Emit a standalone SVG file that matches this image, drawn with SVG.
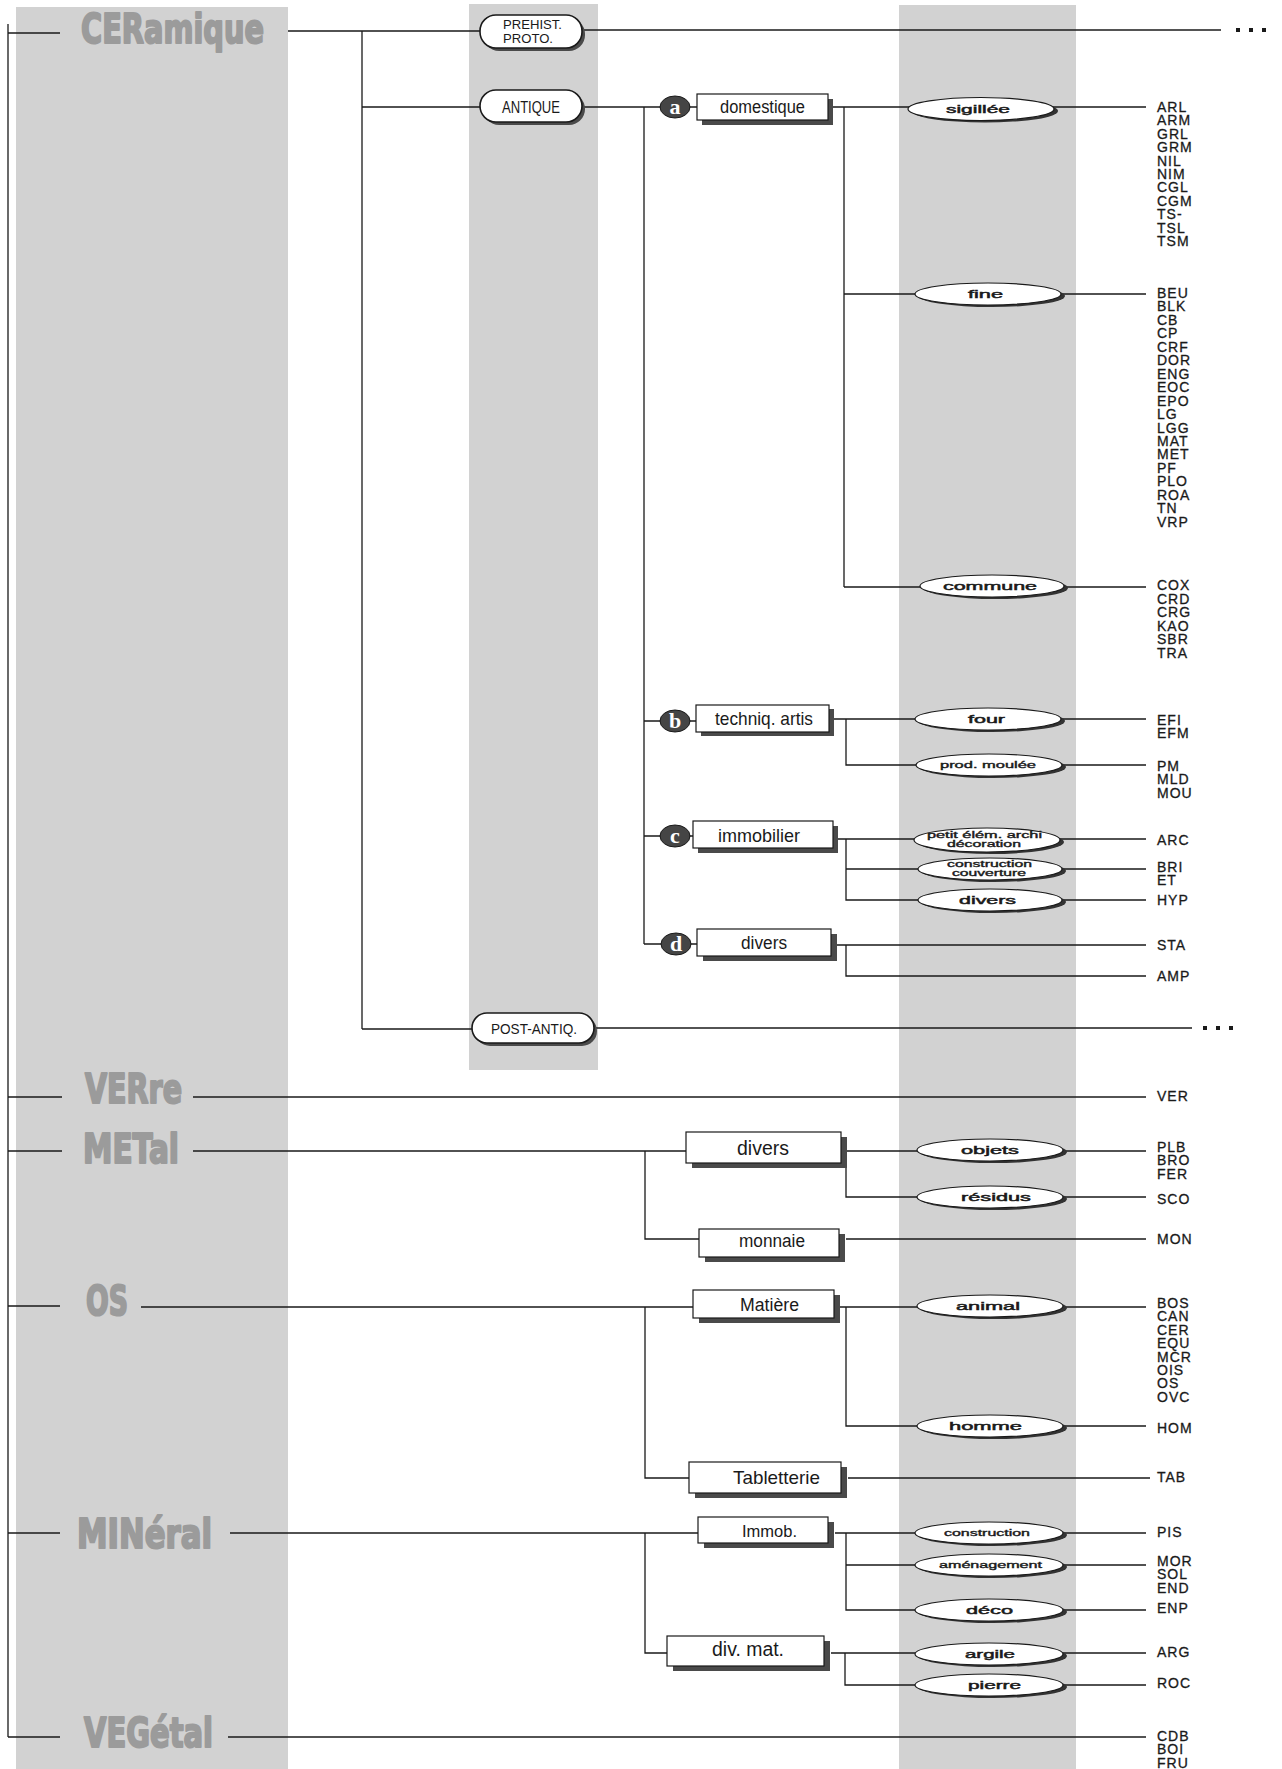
<svg xmlns="http://www.w3.org/2000/svg" width="1282" height="1769" viewBox="0 0 1282 1769">
<style>
.bg{fill:#d2d2d2}
.ln{stroke:#1a1a1a;stroke-width:1.3;fill:none}
.box{fill:#fff;stroke:#1a1a1a;stroke-width:1.2}
.sh{fill:#4a4a4a}
.osh{fill:#333}
.ov{fill:#fff;stroke:#1a1a1a;stroke-width:1.2}
.pill{fill:#fff;stroke:#1a1a1a;stroke-width:1.6}
.bt{font-family:"Liberation Sans",Arial,sans-serif;fill:#1a1a1a}
.ot{font-family:"Liberation Sans",Arial,sans-serif;font-size:10.5px;fill:#1a1a1a;stroke:#1a1a1a;stroke-width:0.45}
.ot2{font-family:"Liberation Sans",Arial,sans-serif;font-size:8.5px;fill:#1a1a1a;stroke:#1a1a1a;stroke-width:0.35}
.code{font-family:"Liberation Sans",Arial,sans-serif;font-size:14px;letter-spacing:1px;fill:#1a1a1a;stroke:#1a1a1a;stroke-width:0.3}
.cat{font-family:"DejaVu Sans",sans-serif;font-weight:bold;font-size:41px;fill:#9b9b9b;stroke:#9b9b9b;stroke-width:2.2;stroke-linejoin:round}
.pt{font-family:"Liberation Sans",Arial,sans-serif;fill:#1a1a1a}
.circ{fill:#454545;stroke:#1a1a1a;stroke-width:1}
.lt{font-family:"Liberation Serif",serif;font-weight:bold;font-size:22px;fill:#fff;text-anchor:middle}
.dot{fill:#1a1a1a}
</style>

<g id="bands">
<rect class="bg" x="16" y="7" width="272" height="1762"/>
<rect class="bg" x="469" y="4" width="129" height="1066"/>
<rect class="bg" x="899" y="5" width="177" height="1764"/>
</g>

<g id="connectors">
<path class="ln" d="M8,24 V1737"/>
<path class="ln" d="M8,33 H60 M8,1097 H62 M8,1151 H62 M8,1306 H60 M8,1533 H60 M8,1737 H60"/>
<path class="ln" d="M288,31 H480 M362,31 V1029 M362,107 H481 M362,1029 H472"/>
<path class="ln" d="M582,30 H1221"/>
<path class="ln" d="M582,107 H697"/>
<path class="ln" d="M644,107 V944 M644,721 H696 M644,836 H693 M644,944 H697"/>
<path class="ln" d="M833,107 H1146 M844,107 V587 M844,294 H1146 M844,587 H1146"/>
<path class="ln" d="M834,719 H1146 M846,719 V765 H1146"/>
<path class="ln" d="M838,839 H1146 M846,839 V900 H1146 M846,869 H1146"/>
<path class="ln" d="M837,945 H1146 M846,945 V976 H1146"/>
<path class="ln" d="M594,1028 H1192"/>
<path class="ln" d="M193,1097 H1146"/>
<path class="ln" d="M193,1151 H686 M645,1151 V1239 H699 M847,1151 H1146 M846,1151 V1197 H1146 M846,1239 H1146"/>
<path class="ln" d="M141,1307 H693 M645,1307 V1478 H689 M840,1307 H1146 M846,1307 V1426 H1146 M848,1478 H1150"/>
<path class="ln" d="M230,1533 H698 M645,1533 V1653 H667 M835,1533 H1146 M846,1533 V1610 H1146 M846,1565 H1146 M831,1653 H1146 M845,1653 V1685 H1146"/>
<path class="ln" d="M228,1737 H1146"/>
<rect class="dot" x="1236" y="28" width="4" height="4"/>
<rect class="dot" x="1249" y="28" width="4" height="4"/>
<rect class="dot" x="1262" y="28" width="4" height="4"/>
<rect class="dot" x="1203" y="1026" width="4" height="4"/>
<rect class="dot" x="1216" y="1026" width="4" height="4"/>
<rect class="dot" x="1229" y="1026" width="4" height="4"/>
</g>

<g id="cat-ceramique"><text class="cat" x="81" y="43" textLength="183" lengthAdjust="spacingAndGlyphs">CERamique</text></g>
<g id="cat-verre"><text class="cat" x="85" y="1103" textLength="97" lengthAdjust="spacingAndGlyphs">VERre</text></g>
<g id="cat-metal"><text class="cat" x="83" y="1163" textLength="96" lengthAdjust="spacingAndGlyphs">METal</text></g>
<g id="cat-os"><text class="cat" x="86" y="1315" textLength="42" lengthAdjust="spacingAndGlyphs">OS</text></g>
<g id="cat-mineral"><text class="cat" x="77" y="1548" textLength="135" lengthAdjust="spacingAndGlyphs">MINéral</text></g>
<g id="cat-vegetal"><text class="cat" x="84" y="1747" textLength="129" lengthAdjust="spacingAndGlyphs">VEGétal</text></g>

<g id="prehist">
<rect class="sh" x="483" y="18" width="102" height="33" rx="16"/>
<rect class="pill" x="480" y="15" width="102" height="33" rx="16"/>
<text class="pt" x="503" y="28.5" font-size="13.5" textLength="59" lengthAdjust="spacingAndGlyphs">PREHIST.</text>
<text class="pt" x="503" y="42.5" font-size="13.5" textLength="50" lengthAdjust="spacingAndGlyphs">PROTO.</text>
</g>
<g id="antique">
<rect class="sh" x="483" y="93" width="102" height="32" rx="16"/>
<rect class="pill" x="480" y="90" width="102" height="32" rx="16"/>
<text class="pt" x="502" y="113" font-size="17" textLength="58" lengthAdjust="spacingAndGlyphs">ANTIQUE</text>
</g>
<g id="postantiq">
<rect class="sh" x="475" y="1016" width="122" height="30" rx="15"/>
<rect class="pill" x="472" y="1013" width="122" height="30" rx="15"/>
<text class="pt" x="491" y="1034" font-size="15" textLength="86" lengthAdjust="spacingAndGlyphs">POST-ANTIQ.</text>
</g>

<g id="circ-a"><ellipse class="circ" cx="675" cy="107" rx="15" ry="11"/><text class="lt" x="675" y="114">a</text></g>
<g id="circ-b"><ellipse class="circ" cx="675" cy="721" rx="15" ry="11"/><text class="lt" x="675" y="728">b</text></g>
<g id="circ-c"><ellipse class="circ" cx="675" cy="836" rx="15" ry="11"/><text class="lt" x="675" y="843">c</text></g>
<g id="circ-d"><ellipse class="circ" cx="676" cy="944" rx="15" ry="11"/><text class="lt" x="676" y="951">d</text></g>

<g id="box-domestique"><rect class="sh" x="702" y="99" width="131" height="26"/><rect class="box" x="697" y="94" width="131" height="26"/><text class="bt" x="720" y="113" font-size="18" textLength="85" lengthAdjust="spacingAndGlyphs">domestique</text></g>
<g id="box-techniq"><rect class="sh" x="701" y="709" width="133" height="27"/><rect class="box" x="696" y="705" width="133" height="27"/><text class="bt" x="715" y="725" font-size="19" textLength="98" lengthAdjust="spacingAndGlyphs">techniq. artis</text></g>
<g id="box-immobilier"><rect class="sh" x="698" y="826" width="140" height="27"/><rect class="box" x="693" y="821" width="140" height="27"/><text class="bt" x="718" y="842" font-size="19" textLength="82" lengthAdjust="spacingAndGlyphs">immobilier</text></g>
<g id="box-divers-d"><rect class="sh" x="703" y="934" width="134" height="27"/><rect class="box" x="697" y="929" width="134" height="27"/><text class="bt" x="741" y="949" font-size="18" textLength="46" lengthAdjust="spacingAndGlyphs">divers</text></g>
<g id="box-divers-met"><rect class="sh" x="692" y="1137" width="155" height="31"/><rect class="box" x="686" y="1132" width="155" height="31"/><text class="bt" x="737" y="1155" font-size="20" textLength="52" lengthAdjust="spacingAndGlyphs">divers</text></g>
<g id="box-monnaie"><rect class="sh" x="705" y="1234" width="140" height="28"/><rect class="box" x="699" y="1229" width="140" height="28"/><text class="bt" x="739" y="1247" font-size="18" textLength="66" lengthAdjust="spacingAndGlyphs">monnaie</text></g>
<g id="box-matiere"><rect class="sh" x="699" y="1295" width="141" height="28"/><rect class="box" x="693" y="1290" width="141" height="28"/><text class="bt" x="740" y="1311" font-size="18" textLength="59" lengthAdjust="spacingAndGlyphs">Matière</text></g>
<g id="box-tabletterie"><rect class="sh" x="695" y="1467" width="152" height="31"/><rect class="box" x="689" y="1462" width="152" height="31"/><text class="bt" x="733" y="1484" font-size="19" textLength="87" lengthAdjust="spacingAndGlyphs">Tabletterie</text></g>
<g id="box-immob"><rect class="sh" x="704" y="1522" width="130" height="26"/><rect class="box" x="698" y="1517" width="130" height="26"/><text class="bt" x="742" y="1537" font-size="17" textLength="55" lengthAdjust="spacingAndGlyphs">Immob.</text></g>
<g id="box-divmat"><rect class="sh" x="673" y="1641" width="157" height="30"/><rect class="box" x="667" y="1636" width="157" height="30"/><text class="bt" x="712" y="1656" font-size="20" textLength="72" lengthAdjust="spacingAndGlyphs">div. mat.</text></g>

<g id="ov-sigillee"><ellipse class="osh" cx="985" cy="111" rx="73" ry="11.5"/><ellipse class="ov" cx="981" cy="109" rx="73" ry="11.5"/><text class="ot" x="946" y="113" textLength="64" lengthAdjust="spacingAndGlyphs">sigillée</text></g>
<g id="ov-fine"><ellipse class="osh" cx="992" cy="296" rx="73" ry="11"/><ellipse class="ov" cx="988" cy="294" rx="73" ry="11"/><text class="ot" x="968" y="298" textLength="35" lengthAdjust="spacingAndGlyphs">fine</text></g>
<g id="ov-commune"><ellipse class="osh" cx="996" cy="588" rx="72" ry="11"/><ellipse class="ov" cx="992" cy="586" rx="72" ry="11"/><text class="ot" x="943" y="590" textLength="94" lengthAdjust="spacingAndGlyphs">commune</text></g>
<g id="ov-four"><ellipse class="osh" cx="992" cy="721" rx="73" ry="11"/><ellipse class="ov" cx="988" cy="719" rx="73" ry="11"/><text class="ot" x="968" y="723" textLength="37" lengthAdjust="spacingAndGlyphs">four</text></g>
<g id="ov-prod"><ellipse class="osh" cx="993" cy="767" rx="73" ry="11"/><ellipse class="ov" cx="989" cy="765" rx="73" ry="11"/><text class="ot2" x="940" y="768" textLength="96" lengthAdjust="spacingAndGlyphs">prod. moulée</text></g>
<g id="ov-petit"><ellipse class="osh" cx="991" cy="842" rx="73" ry="12"/><ellipse class="ov" cx="987" cy="840" rx="73" ry="12"/><text class="ot2" x="927" y="838" textLength="115" lengthAdjust="spacingAndGlyphs">petit élém. archi</text><text class="ot2" x="947" y="847" textLength="74" lengthAdjust="spacingAndGlyphs">décoration</text></g>
<g id="ov-constr-couv"><ellipse class="osh" cx="994" cy="871" rx="72" ry="11"/><ellipse class="ov" cx="990" cy="869" rx="72" ry="11"/><text class="ot2" x="947" y="867" textLength="85" lengthAdjust="spacingAndGlyphs">construction</text><text class="ot2" x="952" y="876" textLength="74" lengthAdjust="spacingAndGlyphs">couverture</text></g>
<g id="ov-divers"><ellipse class="osh" cx="994" cy="902" rx="72" ry="11"/><ellipse class="ov" cx="990" cy="900" rx="72" ry="11"/><text class="ot" x="959" y="904" textLength="57" lengthAdjust="spacingAndGlyphs">divers</text></g>
<g id="ov-objets"><ellipse class="osh" cx="994" cy="1152" rx="73" ry="11"/><ellipse class="ov" cx="990" cy="1150" rx="73" ry="11"/><text class="ot" x="961" y="1154" textLength="58" lengthAdjust="spacingAndGlyphs">objets</text></g>
<g id="ov-residus"><ellipse class="osh" cx="994" cy="1199" rx="73" ry="11"/><ellipse class="ov" cx="990" cy="1197" rx="73" ry="11"/><text class="ot" x="961" y="1201" textLength="70" lengthAdjust="spacingAndGlyphs">résidus</text></g>
<g id="ov-animal"><ellipse class="osh" cx="994" cy="1308" rx="73" ry="11"/><ellipse class="ov" cx="990" cy="1306" rx="73" ry="11"/><text class="ot" x="956" y="1310" textLength="64" lengthAdjust="spacingAndGlyphs">animal</text></g>
<g id="ov-homme"><ellipse class="osh" cx="994" cy="1428" rx="73" ry="11"/><ellipse class="ov" cx="990" cy="1426" rx="73" ry="11"/><text class="ot" x="949" y="1430" textLength="73" lengthAdjust="spacingAndGlyphs">homme</text></g>
<g id="ov-construction"><ellipse class="osh" cx="993" cy="1535" rx="74" ry="11"/><ellipse class="ov" cx="989" cy="1533" rx="74" ry="11"/><text class="ot2" x="944" y="1536" textLength="86" lengthAdjust="spacingAndGlyphs">construction</text></g>
<g id="ov-amenagement"><ellipse class="osh" cx="993" cy="1567" rx="74" ry="11"/><ellipse class="ov" cx="989" cy="1565" rx="74" ry="11"/><text class="ot2" x="939" y="1568" textLength="103" lengthAdjust="spacingAndGlyphs">aménagement</text></g>
<g id="ov-deco"><ellipse class="osh" cx="993" cy="1612" rx="74" ry="11"/><ellipse class="ov" cx="989" cy="1610" rx="74" ry="11"/><text class="ot" x="966" y="1614" textLength="47" lengthAdjust="spacingAndGlyphs">déco</text></g>
<g id="ov-argile"><ellipse class="osh" cx="993" cy="1656" rx="74" ry="11"/><ellipse class="ov" cx="989" cy="1654" rx="74" ry="11"/><text class="ot" x="965" y="1658" textLength="50" lengthAdjust="spacingAndGlyphs">argile</text></g>
<g id="ov-pierre"><ellipse class="osh" cx="993" cy="1687" rx="74" ry="11"/><ellipse class="ov" cx="989" cy="1685" rx="74" ry="11"/><text class="ot" x="968" y="1689" textLength="53" lengthAdjust="spacingAndGlyphs">pierre</text></g>

<g id="codes">
<text class="code" x="1157" y="112"><tspan x="1157">ARL</tspan><tspan x="1157" dy="13.4">ARM</tspan><tspan x="1157" dy="13.4">GRL</tspan><tspan x="1157" dy="13.4">GRM</tspan><tspan x="1157" dy="13.4">NIL</tspan><tspan x="1157" dy="13.4">NIM</tspan><tspan x="1157" dy="13.4">CGL</tspan><tspan x="1157" dy="13.4">CGM</tspan><tspan x="1157" dy="13.4">TS-</tspan><tspan x="1157" dy="13.4">TSL</tspan><tspan x="1157" dy="13.4">TSM</tspan></text>
<text class="code" x="1157" y="298"><tspan x="1157">BEU</tspan><tspan x="1157" dy="13.45">BLK</tspan><tspan x="1157" dy="13.45">CB</tspan><tspan x="1157" dy="13.45">CP</tspan><tspan x="1157" dy="13.45">CRF</tspan><tspan x="1157" dy="13.45">DOR</tspan><tspan x="1157" dy="13.45">ENG</tspan><tspan x="1157" dy="13.45">EOC</tspan><tspan x="1157" dy="13.45">EPO</tspan><tspan x="1157" dy="13.45">LG</tspan><tspan x="1157" dy="13.45">LGG</tspan><tspan x="1157" dy="13.45">MAT</tspan><tspan x="1157" dy="13.45">MET</tspan><tspan x="1157" dy="13.45">PF</tspan><tspan x="1157" dy="13.45">PLO</tspan><tspan x="1157" dy="13.45">ROA</tspan><tspan x="1157" dy="13.45">TN</tspan><tspan x="1157" dy="13.45">VRP</tspan></text>
<text class="code" x="1157" y="590"><tspan x="1157">COX</tspan><tspan x="1157" dy="13.5">CRD</tspan><tspan x="1157" dy="13.5">CRG</tspan><tspan x="1157" dy="13.5">KAO</tspan><tspan x="1157" dy="13.5">SBR</tspan><tspan x="1157" dy="13.5">TRA</tspan></text>
<text class="code" x="1157" y="725"><tspan x="1157">EFI</tspan><tspan x="1157" dy="13.4">EFM</tspan></text>
<text class="code" x="1157" y="771"><tspan x="1157">PM</tspan><tspan x="1157" dy="13.4">MLD</tspan><tspan x="1157" dy="13.4">MOU</tspan></text>
<text class="code" x="1157" y="845">ARC</text>
<text class="code" x="1157" y="872"><tspan x="1157">BRI</tspan><tspan x="1157" dy="13.4">ET</tspan></text>
<text class="code" x="1157" y="905">HYP</text>
<text class="code" x="1157" y="950">STA</text>
<text class="code" x="1157" y="981">AMP</text>
<text class="code" x="1157" y="1101">VER</text>
<text class="code" x="1157" y="1152"><tspan x="1157">PLB</tspan><tspan x="1157" dy="13.4">BRO</tspan><tspan x="1157" dy="13.4">FER</tspan></text>
<text class="code" x="1157" y="1204">SCO</text>
<text class="code" x="1157" y="1244">MON</text>
<text class="code" x="1157" y="1308"><tspan x="1157">BOS</tspan><tspan x="1157" dy="13.4">CAN</tspan><tspan x="1157" dy="13.4">CER</tspan><tspan x="1157" dy="13.4">EQU</tspan><tspan x="1157" dy="13.4">MCR</tspan><tspan x="1157" dy="13.4">OIS</tspan><tspan x="1157" dy="13.4">OS</tspan><tspan x="1157" dy="13.4">OVC</tspan></text>
<text class="code" x="1157" y="1433">HOM</text>
<text class="code" x="1157" y="1482">TAB</text>
<text class="code" x="1157" y="1537">PIS</text>
<text class="code" x="1157" y="1566"><tspan x="1157">MOR</tspan><tspan x="1157" dy="13.4">SOL</tspan><tspan x="1157" dy="13.4">END</tspan></text>
<text class="code" x="1157" y="1613">ENP</text>
<text class="code" x="1157" y="1657">ARG</text>
<text class="code" x="1157" y="1688">ROC</text>
<text class="code" x="1157" y="1741"><tspan x="1157">CDB</tspan><tspan x="1157" dy="13.4">BOI</tspan><tspan x="1157" dy="13.4">FRU</tspan></text>
</g>
</svg>
